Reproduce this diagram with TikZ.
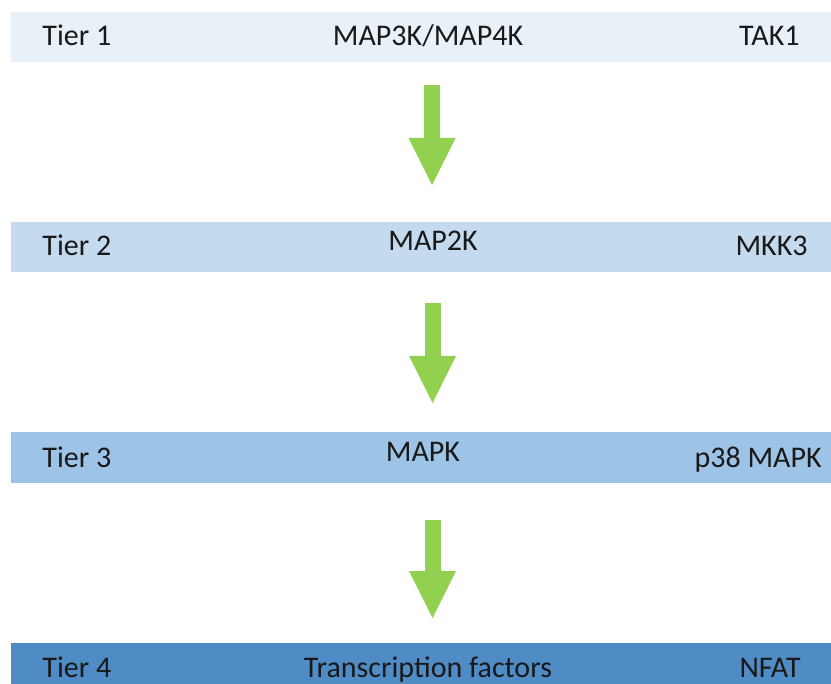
\documentclass[tikz,border=0pt]{standalone}
\usepackage{fontspec}
\setmainfont{Carlito}
\usetikzlibrary{positioning,arrows.meta}

\definecolor{tierA}{HTML}{E8F0F8}
\definecolor{tierB}{HTML}{C4DAEE}
\definecolor{tierC}{HTML}{9DC3E6}
\definecolor{tierD}{HTML}{4F8BC4}
\definecolor{cascade}{HTML}{92D050}

\begin{document}
\begin{tikzpicture}[x=0.5pt,y=-0.5pt,font=\fontsize{15}{18}\selectfont,
  band/.style={minimum width=410pt,minimum height=25pt,inner sep=0pt,outer sep=0pt},
  lbl/.style={anchor=base,inner sep=0pt,text=black!90},
  fat/.style={draw=cascade,line width=8pt,line cap=butt,
              -{Triangle[length=23.5pt,width=23.5pt,line width=0pt]}}]
 \useasboundingbox (0,0) rectangle (831,684);
 \clip (0,0) rectangle (831,684);
 % the four tiers
 \node[band,fill=tierA] (t1) at (421,37) {};
 \node[band,fill=tierB] (t2) at (421,247) {};
 \node[band,fill=tierC,minimum height=25.5pt] (t3) at (421,457.5) {};
 \node[band,fill=tierD] (t4) at (421,668) {};
 \node[lbl,anchor=base west] (n1) at (42,46) {Tier 1};
 \node[lbl] (k1) at (428,46) {MAP3K/MAP4K};
 \node[lbl,anchor=base east] (p1) at (800,46) {TAK1};
 \node[lbl,anchor=base west] (n2) at (42,256) {Tier 2};
 \node[lbl] (k2) at (433,251) {MAP2K};
 \node[lbl,anchor=base east] (p2) at (808,256) {MKK3};
 \node[lbl,anchor=base west] (n3) at (42,467) {Tier 3};
 \node[lbl] (k3) at (423,462) {MAPK};
 \node[lbl,anchor=base east] (p3) at (822,467) {p38 MAPK};
 \node[lbl,anchor=base west] (n4) at (42,677) {Tier 4};
 \node[lbl] (k4) at (428,677) {Transcription factors};
 \node[lbl,anchor=base east] (p4) at (801,677) {NFAT};
 % arrows between tiers
 \draw[fat] ([shift={(11,23)}]t1.south) -- ([shift={(11,-37)}]t2.north);
 \draw[fat] ([shift={(11.5,31)}]t2.south) -- ([shift={(11.5,-29)}]t3.north);
 \draw[fat] ([shift={(11.5,37)}]t3.south) -- ([shift={(11.5,-25)}]t4.north);
\end{tikzpicture}
\end{document}
